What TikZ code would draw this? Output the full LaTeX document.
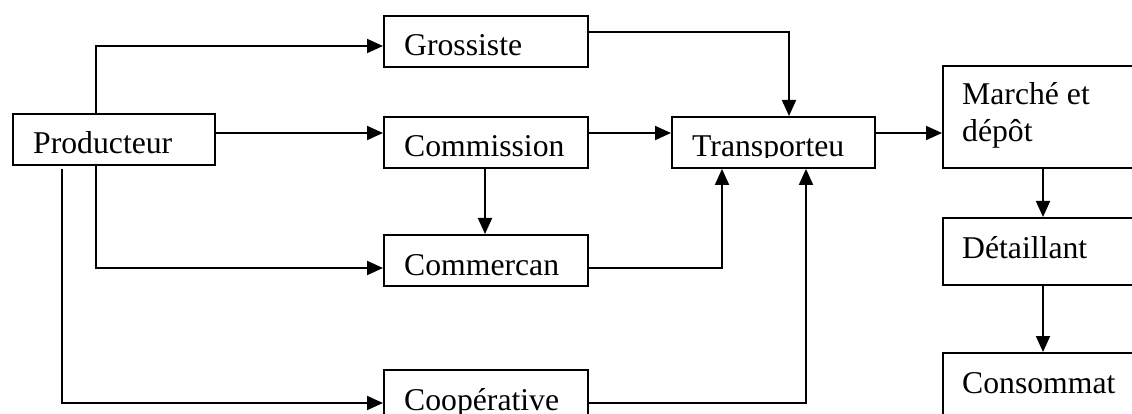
\documentclass[tikz,border=0pt]{standalone}
\usepackage{fontspec}
\setmainfont{Liberation Serif}
\usetikzlibrary{arrows.meta}
\tikzset{
  box/.style={draw, line width=1.9pt, rectangle, inner sep=0pt, anchor=north west},
  txt/.style={anchor=base west, inner sep=0pt, align=left, font=\fontsize{31.7}{37}\selectfont},
  arr/.style={line width=1.9pt, -{Triangle[length=16pt,width=14pt]}},
}
\begin{document}
\begin{tikzpicture}[x=1pt,y=-1pt]
\useasboundingbox (0,0) rectangle (1132,414);
\clip (0,0) rectangle (1132,414);
% boxes
\node[box, minimum width=202pt, minimum height=51pt] (prod) at (12,113) {};
\node[box, minimum width=204pt, minimum height=51pt] (gros) at (383,15) {};
\node[box, minimum width=204pt, minimum height=51pt] (comm) at (383,116) {};
\node[box, minimum width=204pt, minimum height=51pt] (cmc) at (383,234) {};
\node[box, minimum width=204pt, minimum height=60pt] (coop) at (383,369) {};
\node[box, minimum width=203pt, minimum height=51pt] (trans) at (671,116) {};
\node[box, minimum width=210pt, minimum height=102pt] (mar) at (942,65) {};
\node[box, minimum width=210pt, minimum height=67pt] (det) at (942,217) {};
\node[box, minimum width=210pt, minimum height=80pt] (cons) at (942,352) {};
% texts
\node[txt] (tprod) at ([shift={(21,41)}]prod.north west) {Producteur};
\node[txt] (tgros) at ([shift={(21,41)}]gros.north west) {Grossiste};
\node[txt] (tcomm) at ([shift={(21,41)}]comm.north west) {Commission};
\node[txt] (tcmc) at ([shift={(21,41)}]cmc.north west) {Commercan};
\node[txt] (tcoop) at ([shift={(21,41)}]coop.north west) {Coopérative};
\begin{scope}
\clip (trans.north west) rectangle ([shift={(0,42)}]trans.north east);
\node[txt] (ttrans) at ([shift={(21,41)}]trans.north west) {Transporteu};
\end{scope}
\node[txt] (tmar) at ([shift={(20,77)}]mar.north west) {Marché et\\dépôt};
\node[txt] (tdet) at ([shift={(20,41)}]det.north west) {Détaillant};
\node[txt] (tcons) at ([shift={(20,41)}]cons.north west) {Consommat};
% connectors
\draw[arr] (prod.north -| 96,0) |- (gros.west |- 0,46);
\draw[arr] (prod.east |- 0,133) -- (comm.west |- 0,133);
\draw[arr] (prod.south -| 96,0) |- (cmc.west |- 0,268);
\draw[arr] ([yshift=-3pt]prod.south -| 62,0) |- (coop.west |- 0,403);
\draw[arr] (gros.east |- 0,32) -| (trans.north -| 789,0);
\draw[arr] (comm.east |- 0,133) -- (trans.west |- 0,133);
\draw[arr] (comm.south -| 485,0) -- (cmc.north -| 485,0);
\draw[arr] (cmc.east |- 0,268) -| (trans.south -| 722,0);
\draw[arr] (coop.east |- 0,403) -| (trans.south -| 806,0);
\draw[arr] (trans.east |- 0,133) -- (mar.west |- 0,133);
\draw[arr] (mar.south -| 1043,0) -- (det.north -| 1043,0);
\draw[arr] (det.south -| 1043,0) -- (cons.north -| 1043,0);
\end{tikzpicture}
\end{document}
